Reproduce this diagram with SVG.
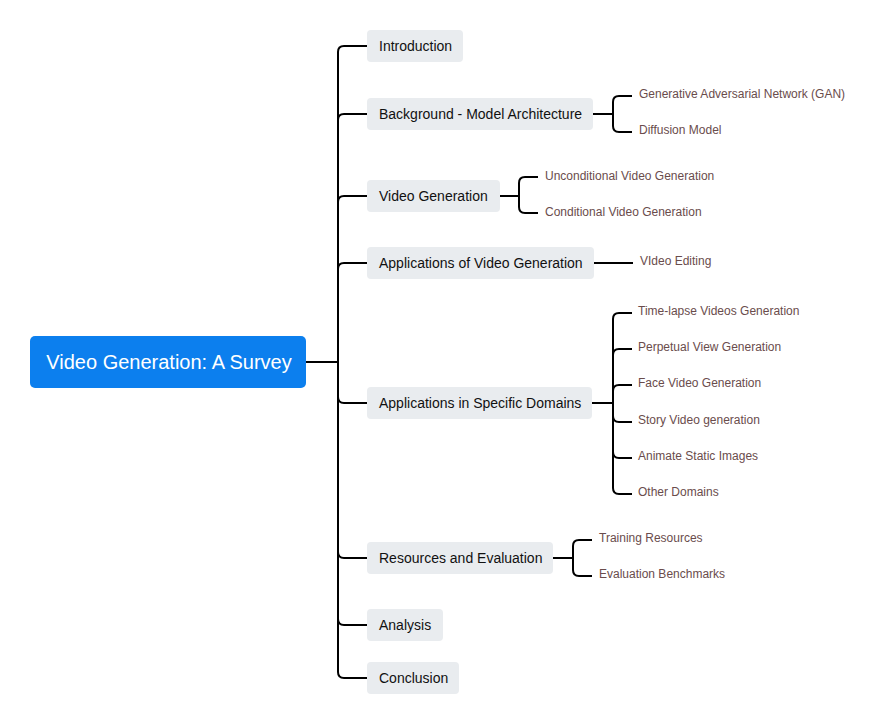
<svg xmlns="http://www.w3.org/2000/svg" width="884" height="725" viewBox="0 0 884 725">
<style>
.n rect{fill:#e9ecef}
.n text{font-family:"Liberation Sans",Arial,sans-serif;font-size:14px;fill:#111}
.l text{font-family:"Liberation Sans",Arial,sans-serif;font-size:12px;fill:#6a4c4c}
.c path{fill:none;stroke:#000;stroke-width:2}
</style>
<rect width="884" height="725" fill="#fff"/>
<g class="c" id="connectors">
<path d="M306 362H338"/>
<path d="M338 362V52Q338 46 344 46H367"/>
<path d="M338 362V120Q338 114 344 114H367"/>
<path d="M338 362V202Q338 196 344 196H367"/>
<path d="M338 362V269Q338 263 344 263H367"/>
<path d="M338 362V397Q338 403 344 403H367"/>
<path d="M338 362V552Q338 558 344 558H367"/>
<path d="M338 362V619Q338 625 344 625H367"/>
<path d="M338 362V672Q338 678 344 678H367"/>
<path d="M593 114H613"/>
<path d="M613 114V102Q613 96 619 96H632"/>
<path d="M613 114V126Q613 132 619 132H632"/>
<path d="M500 196H519"/>
<path d="M519 196V183Q519 177 525 177H538"/>
<path d="M519 196V207Q519 213 525 213H538"/>
<path d="M594 263H633"/>
<path d="M592 403H613"/>
<path d="M613 403V319Q613 313 619 313H632"/>
<path d="M613 403V355Q613 349 619 349H632"/>
<path d="M613 403V391Q613 385 619 385H632"/>
<path d="M613 403V416Q613 422 619 422H632"/>
<path d="M613 403V452Q613 458 619 458H632"/>
<path d="M613 403V488Q613 494 619 494H632"/>
<path d="M553 558H573"/>
<path d="M573 558V546Q573 540 579 540H592"/>
<path d="M573 558V570Q573 576 579 576H592"/>
</g>
<g id="root"><rect x="30" y="336" width="276" height="52" rx="5" fill="#0c7fee"/><text x="169" y="369" text-anchor="middle" font-family="Liberation Sans,Arial,sans-serif" font-size="20" fill="#fff">Video Generation: A Survey</text></g>
<g class="n" id="n1"><rect x="367" y="30" width="96" height="32" rx="4"/><text x="379" y="51">Introduction</text></g>
<g class="n" id="n2"><rect x="367" y="98" width="226" height="32" rx="4"/><text x="379" y="119">Background - Model Architecture</text></g>
<g class="n" id="n3"><rect x="367" y="180" width="133" height="32" rx="4"/><text x="379" y="201">Video Generation</text></g>
<g class="n" id="n4"><rect x="367" y="247" width="227" height="32" rx="4"/><text x="379" y="268">Applications of Video Generation</text></g>
<g class="n" id="n5"><rect x="367" y="387" width="225" height="32" rx="4"/><text x="379" y="408">Applications in Specific Domains</text></g>
<g class="n" id="n6"><rect x="367" y="542" width="186" height="32" rx="4"/><text x="379" y="563">Resources and Evaluation</text></g>
<g class="n" id="n7"><rect x="367" y="609" width="76" height="32" rx="4"/><text x="379" y="630">Analysis</text></g>
<g class="n" id="n8"><rect x="367" y="662" width="92" height="32" rx="4"/><text x="379" y="683">Conclusion</text></g>
<g class="l" id="l1"><text x="639" y="98">Generative Adversarial Network (GAN)</text></g>
<g class="l" id="l2"><text x="639" y="134">Diffusion Model</text></g>
<g class="l" id="l3"><text x="545" y="180">Unconditional Video Generation</text></g>
<g class="l" id="l4"><text x="545" y="216">Conditional Video Generation</text></g>
<g class="l" id="l5"><text x="640" y="265">VIdeo Editing</text></g>
<g class="l" id="l6"><text x="638" y="315">Time-lapse Videos Generation</text></g>
<g class="l" id="l7"><text x="638" y="351">Perpetual View Generation</text></g>
<g class="l" id="l8"><text x="638" y="387">Face Video Generation</text></g>
<g class="l" id="l9"><text x="638" y="424">Story Video generation</text></g>
<g class="l" id="l10"><text x="638" y="460">Animate Static Images</text></g>
<g class="l" id="l11"><text x="638" y="496">Other Domains</text></g>
<g class="l" id="l12"><text x="599" y="542">Training Resources</text></g>
<g class="l" id="l13"><text x="599" y="578">Evaluation Benchmarks</text></g>
</svg>
